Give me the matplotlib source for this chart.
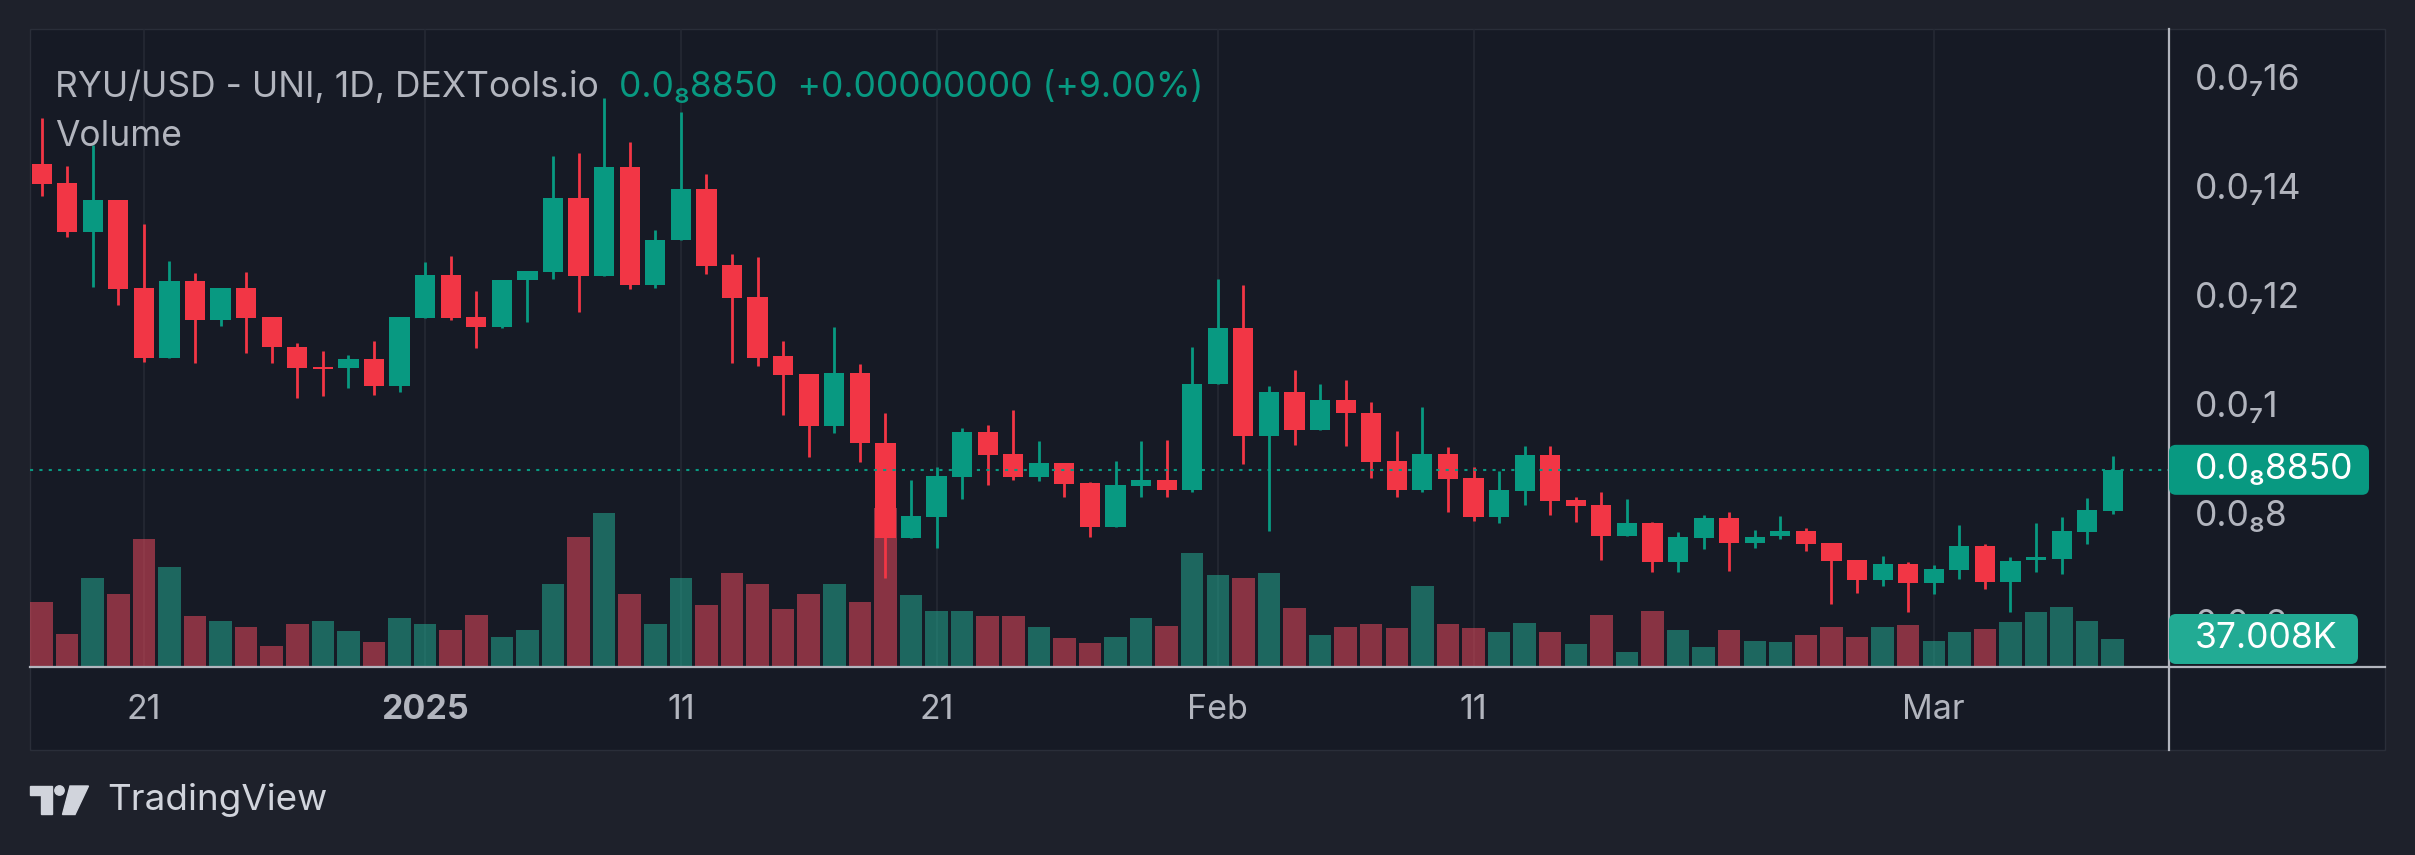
import numpy as np
import pandas as pd
import matplotlib
matplotlib.use("Agg")
import matplotlib.pyplot as plt
from matplotlib.patches import Rectangle, FancyBboxPatch, Circle, Polygon
from matplotlib.transforms import blended_transform_factory as blend

W, H = 2415, 855
FONT = ['Inter', 'DejaVu Sans']

# RYU/USD daily candles, Dec 17 2024 .. Mar 8 2025 (prices in 1e-9 USD)
dates = pd.date_range('2024-12-17', '2025-03-08', freq='D')

opens = [
    14.46, 14.12, 13.21, 13.81, 12.18, 10.91, 12.31, 11.60, 12.18, 11.65,
    11.11, 10.70, 10.71, 10.89, 10.38, 11.63, 12.42, 11.65, 11.47, 12.34,
    12.48, 13.84, 12.41, 14.40, 12.24, 13.06, 14.01, 12.61, 12.02, 10.93,
    10.60, 9.66, 10.63, 9.35, 7.60, 7.99, 8.72, 9.54, 9.14, 8.72,
    8.98, 8.61, 7.80, 8.56, 8.67, 8.48, 10.42, 11.45, 9.47, 10.27,
    9.58, 10.14, 9.90, 9.01, 8.48, 9.14, 8.70, 7.98, 8.46, 9.12,
    8.29, 8.20, 7.63, 7.88, 7.16, 7.59, 7.96, 7.50, 7.63, 7.73,
    7.51, 7.20, 6.83, 7.12, 6.77, 7.01, 7.45, 6.79, 7.20, 7.21,
    7.71, 8.10]
highs = [
    15.30, 14.43, 14.82, 13.81, 13.37, 12.68, 12.46, 12.18, 12.48, 11.65,
    11.18, 11.03, 10.95, 11.22, 11.65, 12.67, 12.77, 12.14, 12.34, 12.49,
    14.61, 14.67, 15.67, 14.86, 13.26, 15.41, 14.27, 12.81, 12.76, 11.21,
    10.60, 11.48, 10.80, 9.90, 8.66, 8.91, 9.62, 9.67, 9.95, 9.38,
    8.98, 8.62, 9.01, 9.38, 9.40, 11.10, 12.36, 12.25, 10.38, 10.69,
    10.43, 10.49, 10.10, 9.57, 10.01, 9.27, 8.90, 8.83, 9.29, 9.29,
    8.35, 8.44, 8.31, 7.90, 7.70, 8.03, 8.07, 7.75, 8.00, 7.78,
    7.51, 7.20, 7.27, 7.16, 7.10, 7.84, 7.49, 7.25, 7.88, 7.99,
    8.34, 9.11]
lows = [
    13.88, 13.13, 12.20, 11.88, 10.83, 10.91, 10.81, 11.49, 11.00, 10.81,
    10.16, 10.21, 10.35, 10.23, 10.27, 11.63, 11.60, 11.08, 11.45, 11.56,
    12.35, 11.75, 12.41, 12.17, 12.19, 13.06, 12.45, 10.81, 10.75, 9.86,
    9.09, 9.52, 9.00, 6.87, 7.60, 7.41, 8.31, 8.57, 8.67, 8.65,
    8.36, 7.62, 7.80, 8.36, 8.35, 8.45, 10.42, 8.96, 7.72, 9.31,
    9.58, 9.29, 8.70, 8.35, 8.45, 8.07, 7.92, 7.88, 8.20, 8.03,
    7.90, 7.20, 7.63, 6.98, 6.98, 7.40, 7.00, 7.42, 7.58, 7.36,
    6.39, 6.59, 6.72, 6.24, 6.57, 6.85, 6.66, 6.24, 6.98, 6.94,
    7.49, 8.04]
closes = [
    14.10, 13.21, 13.81, 12.17, 10.91, 12.31, 11.60, 12.18, 11.63, 11.10,
    10.72, 10.70, 10.89, 10.38, 11.65, 12.42, 11.63, 11.47, 12.34, 12.49,
    13.84, 12.41, 14.40, 12.24, 13.07, 14.01, 12.59, 12.01, 10.91, 10.59,
    9.66, 10.63, 9.35, 7.60, 8.01, 8.74, 9.54, 9.12, 8.72, 8.98,
    8.59, 7.80, 8.57, 8.67, 8.48, 10.43, 11.45, 9.47, 10.27, 9.58,
    10.14, 9.89, 9.00, 8.48, 9.14, 8.68, 7.98, 8.48, 9.12, 8.27,
    8.18, 7.63, 7.88, 7.16, 7.61, 7.96, 7.50, 7.61, 7.73, 7.49,
    7.18, 6.83, 7.12, 6.77, 7.03, 7.45, 6.79, 7.18, 7.25, 7.73,
    8.11, 8.85]
# volume in thousands
volumes = [
    88, 44, 120, 98, 174, 135, 68, 61, 53, 27,
    58, 61, 48, 33, 66, 57, 50, 70, 40, 50,
    113, 177, 210, 99, 57, 120, 84, 127, 113, 78,
    99, 113, 87, 216, 97, 75, 76, 69, 68, 53,
    38, 31, 40, 66, 55, 155, 124, 120, 127, 79,
    43, 54, 58, 52, 109, 57, 52, 47, 59, 47,
    30, 70, 19, 75, 50, 26, 49, 34, 33, 42,
    53, 40, 53, 56, 34, 47, 51, 60, 74, 81,
    62, 37.008]
vol_green_override = [60]  # red candle, green volume bar in the source

price_ticks = [6, 8, 10, 12, 14, 16]
price_labels = ['0.0\u20886', '0.0\u20888', '0.0\u20871', '0.0\u208712',
                '0.0\u208714', '0.0\u208716']
date_ticks = ['2024-12-21', '2025-01-01', '2025-01-11', '2025-01-21',
              '2025-02-01', '2025-02-11', '2025-03-01']
date_labels = ['21', '2025', '11', '21', 'Feb', '11', 'Mar']
title = 'RYU/USD - UNI, 1D, DEXTools.io'
quote = '0.0\u20888850  +0.00000000 (+9.00%)'
last_price_label = '0.0\u20888850'
last_vol_label = '37.008K'

# colours
BG = '#1e212b'
PANE = '#161a25'
GRID = '#262a35'
TXT = '#b2b5be'
UP = '#089981'
DOWN = '#f23645'
VOL_UP = '#23a890'
VOL_DOWN = '#e7495c'

# layout in pixels
PANE_L, PANE_T, PANE_R, PANE_B = 30, 29, 2385, 750
PLOT_R, PLOT_B = 2169, 666

x = np.arange(len(dates))
o = np.array(opens)
h = np.array(highs)
l = np.array(lows)
c = np.array(closes)
prev_c = np.r_[o[0], c[:-1]]
up = (c > o) | ((c == o) & (c >= prev_c))
cols = np.where(up, UP, DOWN)
vol_up = c >= o
vol_up[vol_green_override] = True
vcols = np.where(vol_up, VOL_UP, VOL_DOWN)

fig = plt.figure(figsize=(W / 100, H / 100), dpi=100, facecolor=BG)

bg = fig.add_axes([0, 0, 1, 1], zorder=-10)
bg.set_xlim(0, W)
bg.set_ylim(H, 0)
bg.axis('off')
bg.add_patch(Rectangle((PANE_L, PANE_T), PANE_R - PANE_L, PANE_B - PANE_T,
                       facecolor=PANE, edgecolor='#2a2e39', lw=1))

rect = [PANE_L / W, 1 - PLOT_B / H, (PLOT_R - PANE_L) / W, (PLOT_B - PANE_T) / H]
ax_grid = fig.add_axes(rect, zorder=0)
ax_vol = fig.add_axes(rect, zorder=1, sharex=ax_grid)
ax = fig.add_axes(rect, zorder=2, sharex=ax_grid, sharey=ax_grid)

xlim = (-0.454, 83.2)
ylim = (5.25, 16.94)
ax_grid.set_xlim(*xlim)
ax_grid.set_ylim(*ylim)
ax_vol.set_ylim(0, (PLOT_B - PANE_T) * 1.37)

tick_pos = [dates.get_loc(pd.Timestamp(d)) for d in date_ticks]
ax_grid.set_xticks(tick_pos)
ax_grid.set_yticks(price_ticks)
ax_grid.grid(True, color=GRID, lw=1.1)
for a in (ax_grid, ax_vol, ax):
    a.set_facecolor('none')
    a.tick_params(length=0, labelleft=False, labelbottom=False,
                  labelright=False)
    for s in a.spines.values():
        s.set_visible(False)
ax_vol.set_yticks([])
ax.set_yticks([])

# volume
ax_vol.bar(x, volumes, width=0.88, color=vcols, alpha=0.55, linewidth=0)

# candles
ax.vlines(x, l, h, colors=cols, lw=2.0)
body = np.maximum(np.abs(c - o), 0.04)
ax.bar(x, body, bottom=np.minimum(o, c), width=0.79, color=cols, linewidth=0)

# last price line
ax.axhline(c[-1], color=UP, lw=1.5, ls=(0, (1.5, 3)))

ov = fig.add_axes([0, 0, 1, 1], zorder=10)
ov.set_xlim(0, W)
ov.set_ylim(H, 0)
ov.axis('off')
ov.set_facecolor('none')

# axis lines
ov.plot([PANE_L, PANE_R], [PLOT_B + 1, PLOT_B + 1], color='#b2b5be', lw=1.6)
ov.plot([PLOT_R, PLOT_R], [PANE_T, PANE_B], color='#b2b5be', lw=1.6)

fs = 25.5
# price scale labels (the lowest one sits mostly under the volume tag)
t_price = blend(ov.transData, ax.transData)
for v, lab in zip(price_ticks, price_labels):
    ov.text(2195, v, lab, transform=t_price, ha='left', va='center',
            color=TXT, fontsize=fs, family=FONT, zorder=2)

# time labels
t_time = blend(ax.transData, ov.transData)
for p, lab in zip(tick_pos, date_labels):
    ov.text(p, 710, lab, transform=t_time, ha='center', va='center',
            color=TXT, fontsize=24.5, family=FONT,
            fontweight='bold' if lab == '2025' else 'normal')


def pix_y(axis, val):
    return H - axis.transData.transform((0, val))[1]


# price / volume tags
for yc, lab, col, right in [(pix_y(ax, c[-1]), last_price_label, UP, 2369),
                            (pix_y(ax_vol, volumes[-1]), last_vol_label,
                             '#22ab94', 2358)]:
    ov.add_patch(FancyBboxPatch((PLOT_R, yc - 25), right - PLOT_R, 50,
                                boxstyle='round,pad=0,rounding_size=7',
                                facecolor=col, edgecolor='none', zorder=5))
    ov.text(2195, yc, lab, ha='left', va='center', color='white',
            fontsize=fs, family=FONT, zorder=6)

# legend
ov.text(55, 87, title, ha='left', va='center', color=TXT, fontsize=fs,
        family=FONT)
ov.text(619, 87, quote, ha='left', va='center', color=UP, fontsize=fs,
        family=FONT)
ov.text(55, 137, 'Volume', ha='left', va='center', color=TXT, fontsize=fs,
        family=FONT)

# TradingView logo
LOGO = '#d1d4dc'
ov.add_patch(Polygon([(30, 786), (52, 786), (52, 814), (41, 814), (41, 795),
                      (30, 795)], closed=True, color=LOGO))
ov.add_patch(Circle((59.5, 790.5), 4.7, color=LOGO))
ov.add_patch(Polygon([(70, 786), (88.5, 786), (75, 814.5), (62.5, 814.5)],
                     closed=True, color=LOGO))
ov.text(107, 800, 'TradingView', ha='left', va='center', color=LOGO,
        fontsize=26.5, family=FONT)

fig.savefig('out.png', dpi=100, facecolor=BG)
